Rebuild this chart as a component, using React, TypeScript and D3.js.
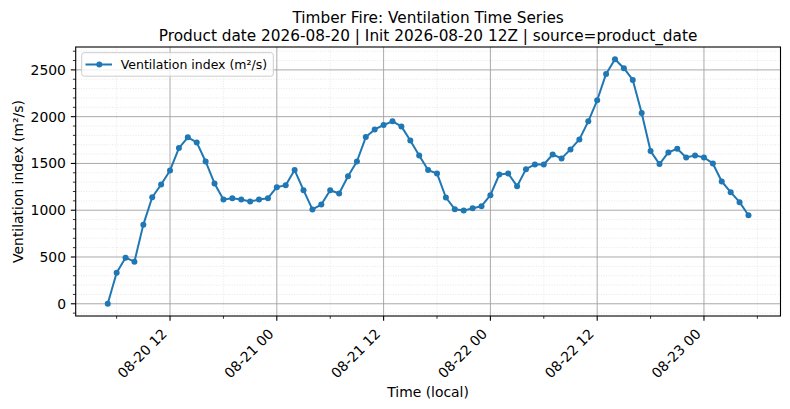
import React, { useEffect, useRef } from "react";
import * as d3 from "d3";

const TITLE_LINE1 = "Timber Fire: Ventilation Time Series";
const TITLE_LINE2 = "Product date 2026-08-20 | Init 2026-08-20 12Z | source=product_date";
const X_LABEL = "Time (local)";
const Y_LABEL = "Ventilation index (m²/s)";
const SERIES_NAME = "Ventilation index (m²/s)";

const START_TIME = "2026-08-20T05:00:00";
const END_TIME = "2026-08-23T06:00:00"; // exclusive, hourly samples

const ventilation: number[] = [
  0, 332, 493, 450, 846, 1139, 1275, 1425, 1664, 1779, 1725, 1521, 1286, 1114, 1129, 1114,
  1093, 1114, 1129, 1246, 1268, 1429, 1214, 1009, 1061, 1214, 1179, 1364, 1521, 1782, 1864,
  1911, 1950, 1896, 1746, 1586, 1429, 1393, 1136, 1011, 996, 1021, 1043, 1161, 1382, 1393,
  1257, 1439, 1489, 1489, 1596, 1554, 1650, 1757, 1950, 2175, 2457, 2614, 2518, 2393, 2039,
  1632, 1493, 1618, 1657, 1564, 1586, 1564, 1500, 1307, 1193, 1086, 946,
];

const yMajorTicks = [0, 500, 1000, 1500, 2000, 2500];

export default function App() {
  const ref = useRef<SVGSVGElement | null>(null);

  useEffect(() => {
    const svg = d3.select(ref.current);
    svg.selectAll("*").remove();

    const W = 790, H = 409;
    const left = 75.7, right = 780.5, top = 47, bottom = 316;
    const font = "DejaVu Sans, Verdana, sans-serif";
    const tickFont = 13.9;
    const majorLen = 4.86, minorLen = 2.78, pad = 4.86;

    const times = d3.timeHour.range(new Date(START_TIME), new Date(END_TIME));
    const data = times.map((t, i) => ({ t, v: ventilation[i] }));

    const tMin = +times[0], tMax = +times[times.length - 1];
    const tPad = (tMax - tMin) * 0.05;
    const x = d3.scaleTime().domain([new Date(tMin - tPad), new Date(tMax + tPad)]).range([left, right]);
    const vMin = d3.min(ventilation)!, vMax = d3.max(ventilation)!;
    const vPad = (vMax - vMin) * 0.05;
    const y = d3.scaleLinear().domain([vMin - vPad, vMax + vPad]).range([bottom, top]);

    svg.append("rect").attr("x", 0).attr("y", 0).attr("width", W).attr("height", H).attr("fill", "white");

    const [d0, d1] = x.domain();
    const xMajor = d3.timeHour.every(12)!.range(d0, d1);
    const xMinor = d3.timeHour.every(6)!.range(d0, d1).filter(t => t.getHours() % 12 !== 0);
    const yMinor = d3.range(Math.ceil(y.domain()[0] / 100) * 100, y.domain()[1], 100).filter(v => v % 500 !== 0);

    const g = svg.append("g");
    // minor grid
    g.selectAll(".mgx").data(xMinor).enter().append("line")
      .attr("x1", d => x(d)).attr("x2", d => x(d)).attr("y1", top).attr("y2", bottom)
      .attr("stroke", "#d6d6d6").attr("stroke-width", 0.6).attr("stroke-dasharray", "1,1.6");
    g.selectAll(".mgy").data(yMinor).enter().append("line")
      .attr("x1", left).attr("x2", right).attr("y1", d => y(d)).attr("y2", d => y(d))
      .attr("stroke", "#d6d6d6").attr("stroke-width", 0.6).attr("stroke-dasharray", "1,1.6");
    // major grid
    g.selectAll(".Mgx").data(xMajor).enter().append("line")
      .attr("x1", d => x(d)).attr("x2", d => x(d)).attr("y1", top).attr("y2", bottom)
      .attr("stroke", "#a0a0a0").attr("stroke-width", 0.9);
    g.selectAll(".Mgy").data(yMajorTicks).enter().append("line")
      .attr("x1", left).attr("x2", right).attr("y1", d => y(d)).attr("y2", d => y(d))
      .attr("stroke", "#a0a0a0").attr("stroke-width", 0.9);

    // line + markers
    const line = d3.line<{ t: Date; v: number }>().x(d => x(d.t)).y(d => y(d.v));
    svg.append("path").datum(data).attr("d", line).attr("fill", "none")
      .attr("stroke", "#1f77b4").attr("stroke-width", 2).attr("stroke-linejoin", "round");
    svg.selectAll(".pt").data(data).enter().append("circle")
      .attr("cx", d => x(d.t)).attr("cy", d => y(d.v)).attr("r", 3).attr("fill", "#1f77b4");

    // spines
    svg.append("rect").attr("x", left).attr("y", top).attr("width", right - left).attr("height", bottom - top)
      .attr("fill", "none").attr("stroke", "black").attr("stroke-width", 1.1);

    // x ticks
    svg.selectAll(".xt").data(xMajor).enter().append("line")
      .attr("x1", d => x(d)).attr("x2", d => x(d)).attr("y1", bottom).attr("y2", bottom + majorLen)
      .attr("stroke", "black").attr("stroke-width", 1.1);
    svg.selectAll(".xmt").data(xMinor).enter().append("line")
      .attr("x1", d => x(d)).attr("x2", d => x(d)).attr("y1", bottom).attr("y2", bottom + minorLen)
      .attr("stroke", "black").attr("stroke-width", 0.8);
    const fmt = d3.timeFormat("%m-%d %H");
    const asc = 0.928 * tickFont * 0.7071, desc = 0.236 * tickFont * 0.7071;
    svg.selectAll(".xl").data(xMajor).enter().append("text")
      .attr("transform", d => `translate(${x(d) - desc},${bottom + majorLen + pad + asc}) rotate(-45)`)
      .attr("text-anchor", "end").attr("font-family", font).attr("font-size", tickFont).attr("fill", "black")
      .text(d => fmt(d));

    // y ticks
    svg.selectAll(".yt").data(yMajorTicks).enter().append("line")
      .attr("x1", left - majorLen).attr("x2", left).attr("y1", d => y(d)).attr("y2", d => y(d))
      .attr("stroke", "black").attr("stroke-width", 1.1);
    svg.selectAll(".ymt").data(yMinor).enter().append("line")
      .attr("x1", left - minorLen).attr("x2", left).attr("y1", d => y(d)).attr("y2", d => y(d))
      .attr("stroke", "black").attr("stroke-width", 0.8);
    svg.selectAll(".yl").data(yMajorTicks).enter().append("text")
      .attr("x", left - majorLen - pad).attr("y", d => y(d)).attr("dy", "0.36em")
      .attr("text-anchor", "end").attr("font-family", font).attr("font-size", tickFont).attr("fill", "black")
      .text(d => String(d));

    // axis labels
    svg.append("text").attr("x", (left + right) / 2).attr("y", 397).attr("text-anchor", "middle")
      .attr("font-family", font).attr("font-size", 13.9).text(X_LABEL);
    svg.append("text").attr("transform", `translate(22.5,${(top + bottom) / 2}) rotate(-90)`)
      .attr("text-anchor", "middle").attr("font-family", font).attr("font-size", 13.9).text(Y_LABEL);

    // title
    svg.append("text").attr("x", (left + right) / 2).attr("y", 22.5).attr("text-anchor", "middle")
      .attr("font-family", font).attr("font-size", 15.3).text(TITLE_LINE1);
    svg.append("text").attr("x", (left + right) / 2).attr("y", 40.5).attr("text-anchor", "middle")
      .attr("font-family", font).attr("font-size", 15.3).text(TITLE_LINE2);

    // legend
    const lg = svg.append("g");
    lg.append("rect").attr("x", 81.7).attr("y", 52.7).attr("width", 191.6).attr("height", 23.5)
      .attr("rx", 2.5).attr("fill", "white").attr("fill-opacity", 0.8).attr("stroke", "#cccccc").attr("stroke-width", 1);
    lg.append("line").attr("x1", 85.5).attr("x2", 112).attr("y1", 64.5).attr("y2", 64.5)
      .attr("stroke", "#1f77b4").attr("stroke-width", 2);
    lg.append("circle").attr("cx", 99.3).attr("cy", 64.5).attr("r", 3).attr("fill", "#1f77b4");
    lg.append("text").attr("x", 120.7).attr("y", 68.8).attr("font-family", font).attr("font-size", 12.5)
      .text(SERIES_NAME);
  }, []);

  return (
    <svg ref={ref} width={790} height={409}
      style={{ position: "fixed", left: 0, top: 0, display: "block" }} />
  );
}
